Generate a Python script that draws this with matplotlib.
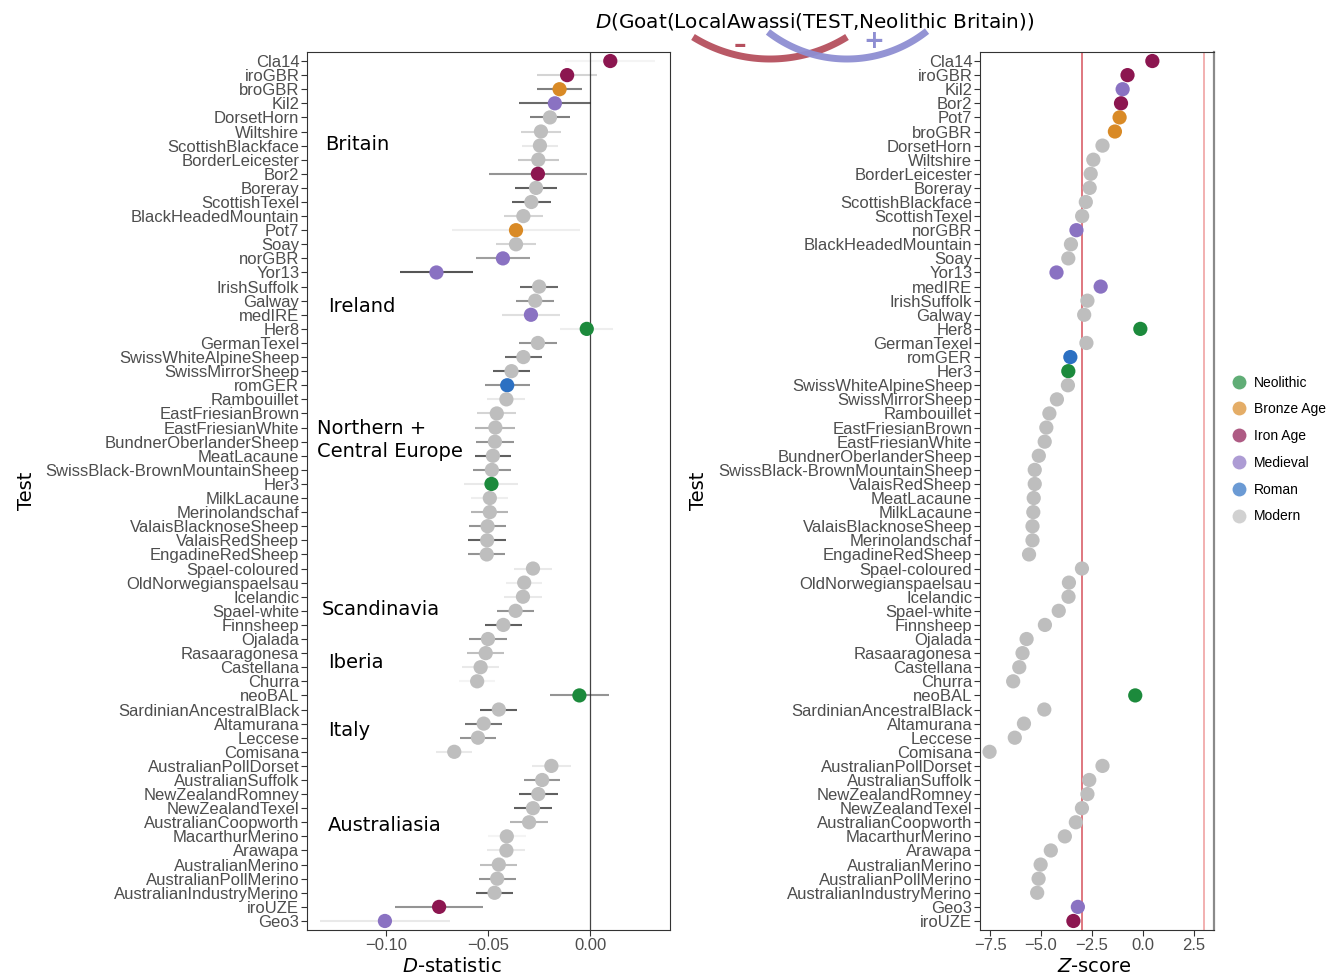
import matplotlib.pyplot as plt
import numpy as np
from matplotlib.lines import Line2D

plt.rcParams['font.family'] = ['DejaVu Sans']

# D(Goat(LocalAwassi(TEST, Neolithic Britain))) per test population
d_names = ['Cla14', 'iroGBR', 'broGBR', 'Kil2', 'DorsetHorn', 'Wiltshire',
           'ScottishBlackface', 'BorderLeicester', 'Bor2', 'Boreray',
           'ScottishTexel', 'BlackHeadedMountain', 'Pot7', 'Soay', 'norGBR',
           'Yor13', 'IrishSuffolk', 'Galway', 'medIRE', 'Her8', 'GermanTexel',
           'SwissWhiteAlpineSheep', 'SwissMirrorSheep', 'romGER', 'Rambouillet',
           'EastFriesianBrown', 'EastFriesianWhite', 'BundnerOberlanderSheep',
           'MeatLacaune', 'SwissBlack-BrownMountainSheep', 'Her3', 'MilkLacaune',
           'Merinolandschaf', 'ValaisBlacknoseSheep', 'ValaisRedSheep',
           'EngadineRedSheep', 'Spael-coloured', 'OldNorwegianspaelsau',
           'Icelandic', 'Spael-white', 'Finnsheep', 'Ojalada', 'Rasaaragonesa',
           'Castellana', 'Churra', 'neoBAL', 'SardinianAncestralBlack',
           'Altamurana', 'Leccese', 'Comisana', 'AustralianPollDorset',
           'AustralianSuffolk', 'NewZealandRomney', 'NewZealandTexel',
           'AustralianCoopworth', 'MacarthurMerino', 'Arawapa',
           'AustralianMerino', 'AustralianPollMerino', 'AustralianIndustryMerino',
           'iroUZE', 'Geo3']
d_vals = [0.0098, -0.0113, -0.0150, -0.0173, -0.0197, -0.0241,
          -0.0246, -0.0254, -0.0256, -0.0265,
          -0.0288, -0.0327, -0.0363, -0.0363, -0.0427,
          -0.0752, -0.0250, -0.0269, -0.0290, -0.0017, -0.0256,
          -0.0327, -0.0385, -0.0406, -0.0410,
          -0.0457, -0.0464, -0.0466,
          -0.0476, -0.0481, -0.0483, -0.0491,
          -0.0491, -0.0502, -0.0504,
          -0.0506, -0.0280, -0.0323,
          -0.0329, -0.0365, -0.0425, -0.0500, -0.0511,
          -0.0536, -0.0553, -0.0053, -0.0447,
          -0.0521, -0.0549, -0.0665, -0.0190,
          -0.0235, -0.0254, -0.0280,
          -0.0299, -0.0408, -0.0410,
          -0.0447, -0.0455, -0.0468,
          -0.0739, -0.1004]
d_err = [0.0220, 0.0145, 0.0110, 0.0175, 0.0100, 0.0096,
         0.0088, 0.0099, 0.0240, 0.0101,
         0.0096, 0.0094, 0.0315, 0.0098, 0.0130,
         0.0177, 0.0093, 0.0094, 0.0140, 0.0130, 0.0092,
         0.0091, 0.0092, 0.0110, 0.0093,
         0.0096, 0.0098, 0.0092,
         0.0089, 0.0093, 0.0132, 0.0090,
         0.0090, 0.0092, 0.0094,
         0.0090, 0.0092, 0.0088,
         0.0092, 0.0089, 0.0090, 0.0091, 0.0090,
         0.0089, 0.0088, 0.0143, 0.0090,
         0.0090, 0.0088, 0.0088, 0.0094,
         0.0089, 0.0094, 0.0094,
         0.0092, 0.0094, 0.0093,
         0.0090, 0.0090, 0.0089,
         0.0217, 0.0316]
# opacity of each error bar
d_shade = [0.05, 0.2, 0.6, 0.7, 0.6, 0.2,
           0.1, 0.25, 0.5, 0.75,
           0.75, 0.2, 0.08, 0.2, 0.45,
           0.8, 0.7, 0.5, 0.15, 0.08, 0.5,
           0.7, 0.75, 0.5, 0.1,
           0.2, 0.35, 0.5,
           0.75, 0.5, 0.1, 0.08,
           0.35, 0.5, 0.75,
           0.5, 0.1, 0.08,
           0.1, 0.5, 0.75, 0.5, 0.3,
           0.1, 0.05, 0.5, 0.75,
           0.65, 0.5, 0.1, 0.1,
           0.5, 0.75, 0.75,
           0.35, 0.05, 0.1,
           0.3, 0.5, 0.75,
           0.5, 0.1]

# Z-scores, sorted within region
z_names = ['Cla14', 'iroGBR', 'Kil2', 'Bor2', 'Pot7', 'broGBR', 'DorsetHorn',
           'Wiltshire', 'BorderLeicester', 'Boreray', 'ScottishBlackface',
           'ScottishTexel', 'norGBR', 'BlackHeadedMountain', 'Soay', 'Yor13',
           'medIRE', 'IrishSuffolk', 'Galway', 'Her8', 'GermanTexel', 'romGER',
           'Her3', 'SwissWhiteAlpineSheep', 'SwissMirrorSheep', 'Rambouillet',
           'EastFriesianBrown', 'EastFriesianWhite', 'BundnerOberlanderSheep',
           'SwissBlack-BrownMountainSheep', 'ValaisRedSheep', 'MeatLacaune',
           'MilkLacaune', 'ValaisBlacknoseSheep', 'Merinolandschaf',
           'EngadineRedSheep', 'Spael-coloured', 'OldNorwegianspaelsau',
           'Icelandic', 'Spael-white', 'Finnsheep', 'Ojalada', 'Rasaaragonesa',
           'Castellana', 'Churra', 'neoBAL', 'SardinianAncestralBlack',
           'Altamurana', 'Leccese', 'Comisana', 'AustralianPollDorset',
           'AustralianSuffolk', 'NewZealandRomney', 'NewZealandTexel',
           'AustralianCoopworth', 'MacarthurMerino', 'Arawapa',
           'AustralianMerino', 'AustralianPollMerino', 'AustralianIndustryMerino',
           'Geo3', 'iroUZE']
z_vals = [0.47, -0.75, -0.99, -1.07, -1.14, -1.37, -1.98,
          -2.43, -2.56, -2.61, -2.80,
          -2.98, -3.26, -3.53, -3.66, -4.24,
          -2.07, -2.72, -2.88, -0.12, -2.77, -3.56,
          -3.66, -3.68, -4.22, -4.59,
          -4.74, -4.82, -5.11,
          -5.31, -5.31, -5.36,
          -5.38, -5.42, -5.42,
          -5.59, -2.99, -3.63,
          -3.65, -4.13, -4.81, -5.71, -5.91,
          -6.07, -6.37, -0.37, -4.84,
          -5.84, -6.29, -7.53, -1.98,
          -2.63, -2.72, -2.99,
          -3.29, -3.83, -4.52,
          -5.02, -5.12, -5.19,
          -3.19, -3.41]

ancient_period = {'Her8': 'Neolithic', 'Her3': 'Neolithic', 'neoBAL': 'Neolithic',
                  'broGBR': 'Bronze Age', 'Pot7': 'Bronze Age',
                  'Cla14': 'Iron Age', 'iroGBR': 'Iron Age', 'Bor2': 'Iron Age',
                  'iroUZE': 'Iron Age',
                  'Kil2': 'Medieval', 'norGBR': 'Medieval', 'Yor13': 'Medieval',
                  'medIRE': 'Medieval', 'Geo3': 'Medieval',
                  'romGER': 'Roman'}

periods = ['Neolithic', 'Bronze Age', 'Iron Age', 'Medieval', 'Roman', 'Modern']
period_colors = {'Neolithic': '#1c8a3c', 'Bronze Age': '#d98a26',
                 'Iron Age': '#8c1650', 'Medieval': '#8a72c2',
                 'Roman': '#2c70c2', 'Modern': '#bebebe'}

regions = [('Britain', 5.9, 0.05), ('Ireland', 17.4, 0.058),
           ('Northern +\nCentral Europe', 26.9, 0.028),
           ('Scandinavia', 38.9, 0.041), ('Iberia', 42.7, 0.058),
           ('Italy', 47.5, 0.058), ('Australiasia', 54.2, 0.058)]

d_ticks = [-0.10, -0.05, 0.00]
z_ticks = [-7.5, -5.0, -2.5, 0.0, 2.5]


def colour_of(name):
    return period_colors[ancient_period.get(name, 'Modern')]


def tick_text(v, fmt):
    return (fmt % v).replace('-', '\u2212')


W, H = 1333, 977
fig = plt.figure(figsize=(W / 100, H / 100), dpi=100)
axL = fig.add_axes([307 / W, 47 / H, 363 / W, 878 / H])
axR = fig.add_axes([980 / W, 47 / H, 234 / W, 878 / H])

tick_font = dict(family=['Liberation Sans', 'DejaVu Sans'], size=12, color='#4d4d4d')

for ax, names in ((axL, d_names), (axR, z_names)):
    ax.set_ylim(len(names) - 0.36, -0.64)
    ax.set_yticks(np.arange(len(names)))
    ax.set_yticklabels(names, **tick_font)
    ax.tick_params(length=4, width=0.8, color='#333333', pad=1.5)
    for sp in ax.spines.values():
        sp.set_color('#333333')
        sp.set_linewidth(0.8)

# left: D-statistic with error bars
yL = np.arange(len(d_names))
axL.axvline(0, color='#444444', lw=0.9, zorder=1)
for yi, v, e, a in zip(yL, d_vals, d_err, d_shade):
    axL.plot([v - e, v + e], [yi, yi], color='#2b2b2b', alpha=a, lw=1.5,
             solid_capstyle='butt', zorder=2)
axL.scatter(d_vals, yL, s=105, c=[colour_of(n) for n in d_names],
            linewidths=0, zorder=3)
axL.set_xlim(-0.1385, 0.039)
axL.set_xticks(d_ticks)
axL.set_xticklabels([tick_text(v, '%.2f') for v in d_ticks], **tick_font)
for text, row, xpos in regions:
    axL.text(xpos, row, text, transform=axL.get_yaxis_transform(),
             fontsize=14, va='center', ha='left', linespacing=1.3)

# right: Z-scores with significance thresholds
yR = np.arange(len(z_names))
axR.axvline(-3, color='#d9606a', lw=1.2, zorder=1)
axR.axvline(3, color='#f0a3a3', lw=1.2, zorder=1)
axR.scatter(z_vals, yR, s=105, c=[colour_of(n) for n in z_names],
            linewidths=0, zorder=3)
axR.set_xlim(-8.0, 3.5)
axR.set_xticks(z_ticks)
axR.set_xticklabels([tick_text(v, '%.1f') for v in z_ticks], **tick_font)
axR.spines['right'].set_color('#8a8a8a')
axR.spines['right'].set_linewidth(1.6)

# axis titles
axL.yaxis.set_label_coords((36 - 307) / 363, 0.5)
axL.set_ylabel('Test', fontsize=14)
axR.yaxis.set_label_coords((708 - 980) / 234, 0.5)
axR.set_ylabel('Test', fontsize=14)
fig.text(452 / W, 1 - 966 / H, '$D$-statistic', fontsize=14, ha='center', va='center')
fig.text(1094 / W, 1 - 966 / H, '$Z$-score', fontsize=14, ha='center', va='center')

# legend
handles = [Line2D([], [], marker='o', ls='none', markersize=10,
                  markerfacecolor=period_colors[p], markeredgewidth=0, alpha=0.7)
           for p in periods]
fig.legend(handles, periods, loc='upper left', bbox_to_anchor=(1226 / W, 1 - 370 / H),
           frameon=False, prop=dict(family=['Liberation Sans', 'DejaVu Sans'], size=10),
           labelspacing=0.92, handlelength=1.0, handletextpad=0.6, borderaxespad=0)

# header: statistic formula with the two arcs underneath
fig.text(815 / W, 1 - 21 / H, '$D$(Goat(LocalAwassi(TEST,Neolithic Britain))',
         fontsize=14.4, ha='center', va='center')
over = fig.add_axes([0, 0, 1, 1], zorder=5)
over.set_xlim(0, W)
over.set_ylim(H, 0)
over.axis('off')
over.patch.set_visible(False)
for (cx, cy, r, x0, x1), col in (((770, -86.7, 145.7, 693, 847), '#b6505e'),
                                 ((847, -69.7, 128.7, 768, 927), '#8e8ed2')):
    xs = np.linspace(x0, x1, 120)
    over.plot(xs, cy + np.sqrt(r ** 2 - (xs - cx) ** 2), color=col, lw=5,
              solid_capstyle='butt', alpha=0.95)
over.text(740, 45, '\u2013', color='#b6505e', fontsize=18, fontweight='bold',
          ha='center', va='center')
over.text(874, 41, '+', color='#8e8ed2', fontsize=18, fontweight='bold',
          ha='center', va='center')

fig.savefig('out.png', dpi=100)
